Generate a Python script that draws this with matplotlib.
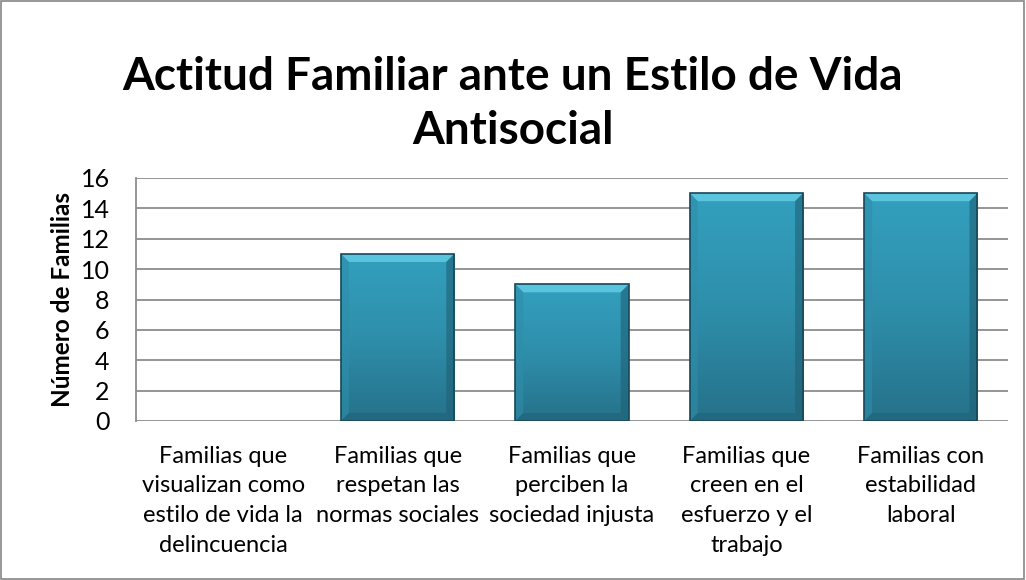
import matplotlib
matplotlib.use("Agg")
import matplotlib.pyplot as plt
import numpy as np
from matplotlib.colors import LinearSegmentedColormap
from matplotlib.patches import Polygon, Rectangle

categories = [
    "Familias que\nvisualizan como\nestilo de vida la\ndelincuencia",
    "Familias que\nrespetan las\nnormas sociales",
    "Familias que\nperciben la\nsociedad injusta",
    "Familias que\ncreen en el\nesfuerzo y el\ntrabajo",
    "Familias con\nestabilidad\nlaboral",
]
values = [0, 11, 9, 15, 15]
yticks = [0, 2, 4, 6, 8, 10, 12, 14, 16]
title = "Actitud Familiar ante un Estilo de Vida\nAntisocial"
ylabel = "Número de Familias"

plt.rcParams['font.family'] = ['Lato', 'DejaVu Sans']

fig = plt.figure(figsize=(10.26, 5.80), dpi=100)
ax = fig.add_axes([136/1026, 1 - 421/580, (1008-136)/1026, (421-178)/580])

x = np.arange(len(categories))
bars = ax.bar(x, values, width=0.65, color="#2e8ea8", zorder=3, edgecolor="none")

ax.set_xlim(-0.5, len(categories) - 0.5)
ax.set_ylim(0, 16)
ax.set_yticks(yticks)
ax.set_yticklabels([str(v) for v in yticks], fontsize=18)
ax.set_xticks(x)
ax.set_xticklabels(categories, fontsize=17, linespacing=1.5, va="top")
ax.tick_params(axis="x", length=0, pad=18)
ax.tick_params(axis="y", length=0, pad=19)
ax.yaxis.grid(True, color="#8c8c8c", linewidth=1.3, zorder=0)
for s in ["top", "right", "bottom"]:
    ax.spines[s].set_visible(False)
ax.spines["left"].set_color("#8c8c8c")
ax.spines["left"].set_linewidth(1.3)
ax.set_ylabel(ylabel, fontsize=17.5, fontweight="bold", labelpad=5)

cmap = LinearSegmentedColormap.from_list("b", ["#26718a", "#2e8fab", "#33a0be"])
grad = np.linspace(0, 1, 256).reshape(-1, 1)
for b in bars:
    h = b.get_height()
    if h <= 0:
        continue
    x0, w = b.get_x(), b.get_width()
    im = ax.imshow(grad, extent=[x0, x0 + w, 0, h], origin="lower", cmap=cmap,
                   aspect="auto", zorder=3.1)
    im.set_clip_path(b)
    inv = ax.transData.inverted()
    p0 = inv.transform((0, 0)); p1 = inv.transform((8, 8))
    dx, dy = p1[0] - p0[0], p1[1] - p0[1]
    top = Polygon([[x0, h], [x0 + w, h], [x0 + w - dx, h - dy], [x0 + dx, h - dy]],
                  closed=True, facecolor="#62cbe6", edgecolor="none", zorder=3.2, alpha=0.85)
    left = Polygon([[x0, 0], [x0, h], [x0 + dx, h - dy], [x0 + dx, dy]],
                   closed=True, facecolor="#2f8eaa", edgecolor="none", zorder=3.2, alpha=0.6)
    right = Polygon([[x0 + w, 0], [x0 + w, h], [x0 + w - dx, h - dy], [x0 + w - dx, dy]],
                    closed=True, facecolor="#1f6074", edgecolor="none", zorder=3.2, alpha=0.6)
    bottom = Polygon([[x0, 0], [x0 + w, 0], [x0 + w - dx, dy], [x0 + dx, dy]],
                     closed=True, facecolor="#1f5e70", edgecolor="none", zorder=3.2, alpha=0.45)
    for p in (top, left, right, bottom):
        ax.add_patch(p)
    ax.add_patch(Rectangle((x0, 0), w, h, fill=False, edgecolor="#17485a",
                           linewidth=1.2, zorder=3.3))

fig.text(0.5, 1 - 104/580, title, ha="center", va="center", fontsize=33,
         fontweight="bold", linespacing=1.33)

fig.patches.append(Rectangle((0.001, 0.001), 0.997, 0.997, transform=fig.transFigure,
                             fill=False, edgecolor="#868686", linewidth=1.2))

fig.savefig("out.png", dpi=100)
